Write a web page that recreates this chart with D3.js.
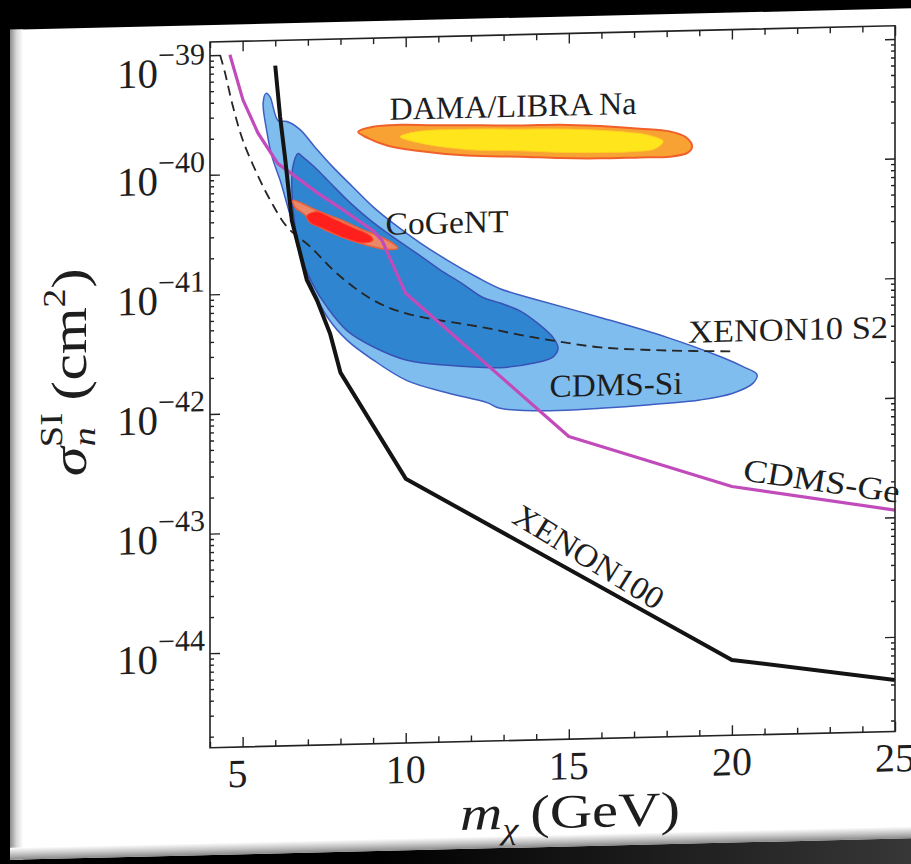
<!DOCTYPE html>
<html><head><meta charset="utf-8">
<script src="https://cdn.jsdelivr.net/npm/d3@7"></script>
<style>
html,body{margin:0;padding:0;background:#000;}
svg{display:block;}
</style></head><body>
<svg id="chart" width="911" height="864"></svg>
<script>
// ---------------- DATA (mass in GeV, cross-section as log10(sigma / cm^2)) ----------------
const massTicks = [5, 10, 15, 20, 25];
const sigmaTickExponents = [-39, -40, -41, -42, -43, -44];

// XENON100 limit (black)
const xenon100Mass = [6.0, 6.15, 6.3, 6.51, 6.76, 6.97, 7.28, 7.68, 8.0, 10.0, 20.0, 25.0];
const xenon100LogSigma = [-39.10, -39.53, -39.87, -40.40, -40.67, -40.90, -41.07, -41.35, -41.68, -42.58, -44.16, -44.36];

// CDMS-Ge limit (magenta)
const cdmsGeMass = [4.61, 5.01, 5.47, 6.08, 6.76, 7.28, 8.08, 9.0, 9.27, 9.82, 10.0, 15.0, 20.0, 25.0];
const cdmsGeLogSigma = [-39.00, -39.38, -39.66, -39.92, -40.06, -40.17, -40.32, -40.50, -40.58, -40.92, -41.03, -42.26, -42.71, -42.94];

// XENON10 S2 limit (dashed)
const xenon10Mass = [4.31, 4.46, 4.71, 5.01, 5.44, 5.84, 6.36, 7.07, 7.89, 9.0, 10.04, 12.37, 13.5, 14.42, 15.96, 18.01, 20.03];
const xenon10LogSigma = [-39.00, -39.15, -39.44, -39.72, -40.00, -40.22, -40.45, -40.62, -40.85, -41.08, -41.20, -41.33, -41.40, -41.45, -41.52, -41.56, -41.58];

// CDMS-Si 90% region (light blue)
const cdmsSiOuterMass = [5.72, 5.84, 6.09, 6.36, 6.76, 7.22, 7.77, 8.38, 9.00, 9.61, 10.44, 11.27, 12.19, 12.89, 13.90, 15.96, 18.01, 19.54, 20.34, 20.77,
  20.65, 20.03, 19.02, 17.49, 15.96, 14.42, 12.89, 12.49, 11.27, 10.04, 9.00, 8.20, 7.59, 7.16, 6.97, 6.67, 6.39, 6.15, 5.90, 5.75, 5.63];
const cdmsSiOuterLogSigma = [-39.33, -39.36, -39.56, -39.57, -39.64, -39.79, -39.96, -40.13, -40.30, -40.44, -40.61, -40.76, -40.91, -41.01, -41.10, -41.27, -41.45, -41.61, -41.71, -41.78,
  -41.85, -41.93, -41.98, -42.01, -42.03, -42.04, -42.01, -41.96, -41.87, -41.76, -41.58, -41.41, -41.21, -40.98, -40.84, -40.56, -40.29, -40.06, -39.86, -39.66, -39.41];

// CDMS-Si 68% region (dark blue)
const cdmsSiInnerMass = [6.70, 6.85, 7.22, 7.68, 8.29, 8.91, 9.43, 10.35, 11.05, 11.73, 12.37, 12.89, 13.50, 14.06, 14.52, 14.67,
  14.52, 13.90, 12.89, 11.27, 10.04, 9.00, 8.20, 7.59, 7.16, 6.76, 6.61, 6.51, 6.54];
const cdmsSiInnerLogSigma = [-39.84, -39.87, -39.96, -40.09, -40.26, -40.41, -40.52, -40.70, -40.84, -40.96, -41.08, -41.13, -41.20, -41.31, -41.43, -41.52,
  -41.59, -41.64, -41.67, -41.64, -41.59, -41.47, -41.33, -41.13, -40.94, -40.67, -40.45, -40.14, -39.95];

// CoGeNT regions
const cogentOuterMass = [6.54, 6.76, 7.28, 7.99, 8.60, 9.21, 9.61, 9.76, 9.43, 8.81, 8.08, 7.37, 6.85, 6.61];
const cogentOuterLogSigma = [-40.23, -40.25, -40.32, -40.40, -40.48, -40.55, -40.61, -40.65, -40.66, -40.62, -40.55, -40.46, -40.34, -40.29];
const cogentInnerMass = [6.97, 7.28, 7.77, 8.38, 8.91, 9.00, 8.69, 8.08, 7.46, 7.07];
const cogentInnerLogSigma = [-40.36, -40.33, -40.39, -40.47, -40.54, -40.58, -40.60, -40.55, -40.47, -40.42];

// DAMA/LIBRA Na regions
const damaOuterMass = [8.54, 9.00, 9.83, 10.84, 12.28, 13.50, 14.73, 15.96, 17.18, 18.10, 18.59, 18.78, 18.65, 18.10, 17.18, 15.96, 14.73, 13.50, 11.88, 10.35, 9.43, 8.81];
const damaOuterLogSigma = [-39.67, -39.63, -39.62, -39.63, -39.64, -39.65, -39.65, -39.67, -39.70, -39.73, -39.78, -39.86, -39.91, -39.94, -39.94, -39.94, -39.93, -39.91, -39.89, -39.84, -39.79, -39.72];
const damaInnerMass = [9.83, 10.35, 11.88, 13.50, 15.04, 16.57, 17.49, 17.89, 17.64, 16.88, 15.96, 14.73, 13.50, 11.88, 10.35];
const damaInnerLogSigma = [-39.72, -39.68, -39.67, -39.68, -39.69, -39.72, -39.76, -39.81, -39.87, -39.89, -39.89, -39.88, -39.86, -39.84, -39.77];

// ---------------- DRAWING ----------------
const W = 911, H = 864;
const FONT = "'Liberation Serif','DejaVu Serif',serif";
const svg = d3.select('#chart');
const defs = svg.append('defs');

svg.append('rect').attr('width', W).attr('height', H).attr('fill', '#000');

// gradients for the card edges
const gl = defs.append('linearGradient').attr('id', 'leftEdge').attr('x1', 0).attr('x2', 1).attr('y1', 0).attr('y2', 0);
gl.append('stop').attr('offset', 0).attr('stop-color', '#8c8c8c');
gl.append('stop').attr('offset', 0.5).attr('stop-color', '#d8d8d8');
gl.append('stop').attr('offset', 1).attr('stop-color', '#ffffff');
const gb = defs.append('linearGradient').attr('id', 'bottomEdge').attr('x1', 0).attr('x2', 0).attr('y1', 0).attr('y2', 1);
gb.append('stop').attr('offset', 0).attr('stop-color', '#ffffff');
gb.append('stop').attr('offset', 0.5).attr('stop-color', '#c8c8c8');
gb.append('stop').attr('offset', 1).attr('stop-color', '#8a8a8a');
const gs = defs.append('linearGradient').attr('id', 'shadow').attr('x1', 0).attr('x2', 1).attr('y1', 0).attr('y2', 0);
gs.append('stop').attr('offset', 0).attr('stop-color', '#000');
gs.append('stop').attr('offset', 1).attr('stop-color', '#3a3a3a');

const g = svg.append('g').attr('transform', 'translate(210,0) skewY(-1.362) translate(-210,0)');

// card
g.append('rect').attr('x', 380).attr('y', 855).attr('width', 560).attr('height', 40).attr('fill', 'url(#shadow)');
g.append('rect').attr('x', 10).attr('y', 25).attr('width', 930).attr('height', 830).attr('fill', '#fff');
g.append('rect').attr('x', 10).attr('y', 25).attr('width', 13).attr('height', 830).attr('fill', 'url(#leftEdge)');
g.append('rect').attr('x', 10).attr('y', 843).attr('width', 930).attr('height', 12).attr('fill', 'url(#bottomEdge)');

// scales
const x = d3.scaleLinear().domain([4, 25]).range([210, 895]);
const y = d3.scaleLog().domain([1.62e-45, 1.29e-39]).range([747.7, 42]);
const X0 = x.range()[0], X1 = x.range()[1], Y0 = y.range()[0], Y1 = y.range()[1];

defs.append('clipPath').attr('id', 'plotClip').append('rect')
  .attr('x', X0).attr('y', Y1).attr('width', X1 - X0).attr('height', Y0 - Y1);

const plot = g.append('g').attr('clip-path', 'url(#plotClip)');

const pts = (ms, ls) => ms.map((m, i) => [m, Math.pow(10, ls[i])]);
const area = d3.line().x(d => x(d[0])).y(d => y(d[1])).curve(d3.curveCatmullRomClosed.alpha(0.5));
const line = d3.line().x(d => x(d[0])).y(d => y(d[1]));
const smoothLine = d3.line().x(d => x(d[0])).y(d => y(d[1])).curve(d3.curveCatmullRom.alpha(0.5));

function region(ms, ls, fill, stroke, sw) {
  plot.append('path').attr('d', area(pts(ms, ls))).attr('fill', fill)
    .attr('stroke', stroke).attr('stroke-width', sw).attr('stroke-linejoin', 'round');
}
region(cdmsSiOuterMass, cdmsSiOuterLogSigma, '#80bdef', '#3d5ec2', 1.5);
region(cdmsSiInnerMass, cdmsSiInnerLogSigma, '#2f85cf', '#3852b4', 1.5);
region(cogentOuterMass, cogentOuterLogSigma, '#ea8867', '#e9603d', 1.5);
region(cogentInnerMass, cogentInnerLogSigma, '#ff1f1c', '#ff4a30', 1);
region(damaOuterMass, damaOuterLogSigma, '#f8a234', '#f2602a', 2);
region(damaInnerMass, damaInnerLogSigma, '#ffe61c', '#ffd020', 1);

plot.append('path').attr('d', smoothLine(pts(xenon10Mass, xenon10LogSigma))).attr('fill', 'none')
  .attr('stroke', '#262626').attr('stroke-width', 1.8).attr('stroke-dasharray', '10,6');
plot.append('path').attr('d', line(pts(cdmsGeMass, cdmsGeLogSigma))).attr('fill', 'none')
  .attr('stroke', '#c24bbb').attr('stroke-width', 3.2).attr('stroke-linejoin', 'round');
plot.append('path').attr('d', line(pts(xenon100Mass, xenon100LogSigma))).attr('fill', 'none')
  .attr('stroke', '#141414').attr('stroke-width', 4).attr('stroke-linejoin', 'round');

// axes & ticks (all pointing inward)
const minorMass = d3.range(4, 26).filter(v => v % 5 !== 0);
const minorSigma = [];
for (let e = -45; e <= -39; e++) for (let k = 2; k <= 9; k++) {
  const v = k * Math.pow(10, e);
  if (v > y.domain()[0] && v < y.domain()[1]) minorSigma.push(v);
}
const majorSigma = sigmaTickExponents.map(e => Math.pow(10, e));

function drawAxis(axis, tx, ty) {
  const a = g.append('g').attr('transform', `translate(${tx},${ty})`).call(axis);
  a.select('.domain').remove();
  a.selectAll('line').attr('stroke', '#222').attr('stroke-width', 1.4);
}
drawAxis(d3.axisBottom(x).tickValues(massTicks).tickSize(-10).tickFormat(''), 0, Y0);
drawAxis(d3.axisBottom(x).tickValues(minorMass).tickSize(-6).tickFormat(''), 0, Y0);
drawAxis(d3.axisTop(x).tickValues(massTicks).tickSize(-10).tickFormat(''), 0, Y1);
drawAxis(d3.axisTop(x).tickValues(minorMass).tickSize(-6).tickFormat(''), 0, Y1);
drawAxis(d3.axisLeft(y).tickValues(majorSigma).tickSize(-10).tickFormat(''), X0, 0);
drawAxis(d3.axisLeft(y).tickValues(minorSigma).tickSize(-4).tickFormat(''), X0, 0);
drawAxis(d3.axisRight(y).tickValues(majorSigma).tickSize(-10).tickFormat(''), X1, 0);
drawAxis(d3.axisRight(y).tickValues(minorSigma).tickSize(-4).tickFormat(''), X1, 0);

g.append('rect').attr('x', X0).attr('y', Y1).attr('width', X1 - X0).attr('height', Y0 - Y1)
  .attr('fill', 'none').attr('stroke', '#222').attr('stroke-width', 1.6);

// tick labels
const txt = g.append('g').attr('font-family', FONT).attr('fill', '#1e1e1e');
massTicks.forEach(v => {
  txt.append('text').attr('x', x(v) - (v === 5 ? 5 : 0)).attr('y', Y0 + 40).attr('text-anchor', 'middle')
    .attr('font-size', 40).text(v);
});
sigmaTickExponents.forEach(e => {
  const yy = Math.max(y(Math.pow(10, e)) + 19, 86);
  const t = txt.append('text').attr('x', 205).attr('y', yy).attr('text-anchor', 'end');
  t.append('tspan').attr('font-size', 41).text('10');
  t.append('tspan').attr('font-size', 30).attr('dy', -22).text('\u2212' + (-e));
});

// axis titles
const xt = txt.append('text').attr('x', 570).attr('y', 836).attr('text-anchor', 'middle').attr('font-size', 48)
  .attr('textLength', 220).attr('lengthAdjust', 'spacingAndGlyphs');
xt.append('tspan').attr('font-style', 'italic').text('m');
xt.append('tspan').attr('font-style', 'italic').attr('font-size', 30).attr('dy', 10).text('\u03c7');
xt.append('tspan').attr('dy', -10).text('\u2009(GeV)');

const yt = txt.append('text').attr('transform', 'translate(86,369) rotate(-90)').attr('text-anchor', 'middle').attr('font-size', 50)
  .attr('textLength', 208).attr('lengthAdjust', 'spacingAndGlyphs');
yt.append('tspan').attr('font-style', 'italic').text('\u03c3');
yt.append('tspan').attr('font-style', 'italic').attr('font-size', 32).attr('dy', 9).text('n');
yt.append('tspan').attr('font-size', 32).attr('dx', -16).attr('dy', -33).text('SI');
yt.append('tspan').attr('dy', 24).text('\u2009(cm');
yt.append('tspan').attr('font-size', 32).attr('dy', -21).text('2');
yt.append('tspan').attr('dy', 21).text(')');

// curve / region labels
function label(s, px, py, len, rot) {
  txt.append('text').attr('font-size', 32).attr('text-anchor', 'middle')
    .attr('transform', `translate(${px},${py}) rotate(${rot || 0})`)
    .attr('textLength', len).attr('lengthAdjust', 'spacingAndGlyphs').text(s);
}
label('DAMA/LIBRA Na', 513, 124, 247);
label('CoGeNT', 447, 239, 123);
label('XENON10 S2', 788, 354, 200);
label('CDMS-Si', 616, 405, 133);
label('CDMS-Ge', 820, 506, 158, 9.5);
label('XENON100', 583, 575, 172, 32.5);
</script>
</body></html>
